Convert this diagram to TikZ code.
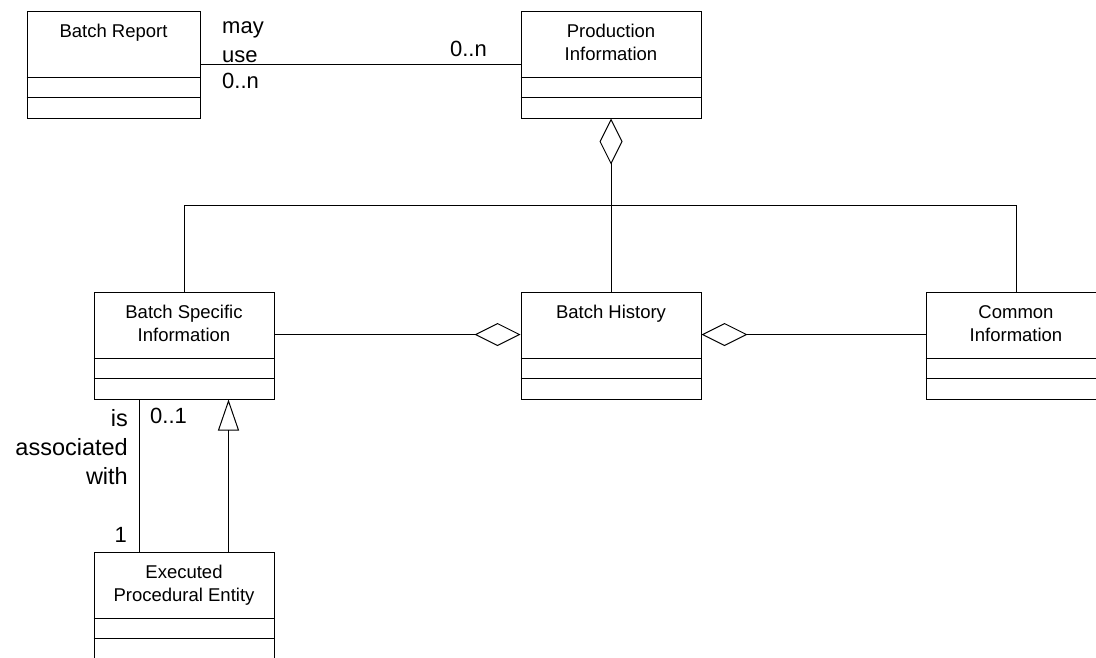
\documentclass[tikz,border=0pt]{standalone}
\usepackage{fontspec}
\setmainfont{Liberation Sans}
\usetikzlibrary{arrows.meta}

\tikzset{
  classbox/.style={draw=black, line width=1pt, fill=white, inner sep=0pt, minimum height=107pt},
  sepline/.style={draw=black, line width=1.3pt},
  classname/.style={anchor=base, inner sep=0pt, font=\fontsize{18.5}{23.5}\selectfont},
  conn/.style={draw=black, line width=1pt},
  lbl/.style={inner sep=0pt, font=\fontsize{22}{29}\selectfont},
  aggr/.style={{Diamond[open, length=46pt, width=23pt, line width=1pt]}-},
  gener/.style={-{Triangle[open, length=31pt, width=21pt, line width=1pt]}},
}

% class box: name, left, top, width, title lines
\newcommand{\umlclass}[5]{%
  \node[classbox, minimum width=#4pt] (#1) at (#2+#4/2, #3+53.5) {};
  \draw[sepline] ([yshift=-67pt]#1.north west) -- ([yshift=-67pt]#1.north east);
  \draw[sepline] ([yshift=-87pt]#1.north west) -- ([yshift=-87pt]#1.north east);
  \node[classname] (#1-name) at (#2+#4/2, #3+26) {\begin{tabular}[t]{@{}c@{}}#5\end{tabular}};
}

\begin{document}
\begin{tikzpicture}[x=1pt, y=-1pt]
\useasboundingbox (0,0) rectangle (1096,657);
\clip (0,0) rectangle (1096,657);
\fill[white] (0,0) rectangle (1096,657);

% classes
\umlclass{br}{27}{11}{173}{Batch Report}
\umlclass{pi}{521}{11}{180}{Production\\Information}
\umlclass{bsi}{94}{292}{180}{Batch Specific\\Information}
\umlclass{bh}{521}{292}{180}{Batch History}
\umlclass{ci}{926}{292}{180}{Common\\Information}
\umlclass{epe}{94}{552}{180}{Executed\\Procedural Entity}

% batch report uses production information
\draw[conn] ([yshift=-54pt]br.north east) -- ([yshift=-54pt]pi.north west);
\node[lbl, anchor=base west] (may) at (222,33) {\begin{tabular}[t]{@{}l@{}}may\\use\end{tabular}};
\node[lbl, anchor=base west] (m1) at (222,88) {0..n};
\node[lbl, anchor=base east] (m2) at (487,56) {0..n};

% production information aggregates the three parts
\coordinate (bus) at (0,205);
\coordinate (join) at (pi.south |- bus);
\draw[conn, aggr] (pi.south) -- (join);
\draw[conn] (bsi.north) -- (bsi.north |- bus) -- (ci.north |- bus) -- (ci.north);
\draw[conn] (bh.north) -- (join);

% batch history aggregates its neighbours
\draw[conn, aggr] ([yshift=-43pt]bh.north west) -- ([yshift=-43pt]bsi.north east);
\draw[conn, aggr] ([yshift=-43pt]bh.north east) -- ([yshift=-43pt]ci.north west);

% association and generalisation to executed procedural entity
\draw[conn] ([xshift=46pt]bsi.south west) -- ([xshift=46pt]epe.north west);
\draw[conn, gener] ([xshift=135pt]epe.north west) -- ([xshift=135pt]bsi.south west);
\node[lbl, anchor=base east, font=\fontsize{23.5}{29}\selectfont] (assoc) at (128,426) {\begin{tabular}[t]{@{}r@{}}is\\associated\\with\end{tabular}};
\node[lbl, anchor=base west] (m3) at (150,423) {0..1};
\node[lbl, anchor=base east] (m4) at (127,542) {1};
\end{tikzpicture}
\end{document}
